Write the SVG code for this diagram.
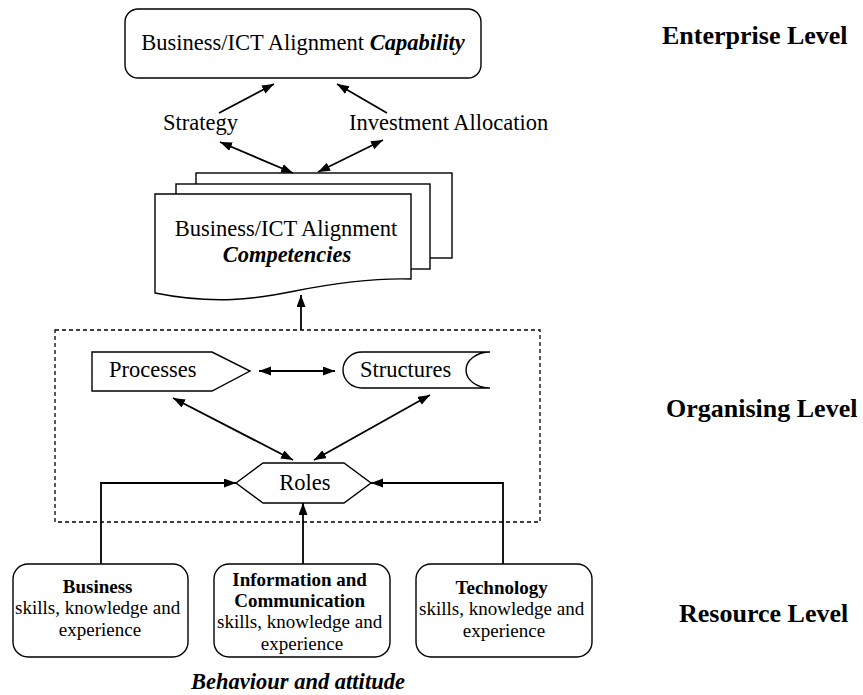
<svg xmlns="http://www.w3.org/2000/svg" width="863" height="695" viewBox="0 0 863 695">
  <defs>
    <marker id="head" markerUnits="userSpaceOnUse" markerWidth="13" markerHeight="10" refX="12" refY="4.5" orient="auto-start-reverse">
      <path d="M0,0 L12,4.5 L0,9 Z" fill="#000"/>
    </marker>
    <style>
      text { font-family: "Liberation Serif", "Times New Roman", serif; fill: #000; }
      .t { font-size: 22.5px; }
      .s { font-size: 19px; }
      .lvl { font-size: 26px; font-weight: bold; }
      .bi { font-weight: bold; font-style: italic; }
      .b { font-weight: bold; }
      .shape { fill: #fff; stroke: #000; stroke-width: 1.4; }
      .edge { fill: none; stroke: #000; stroke-width: 1.8; }
      .one { marker-end: url(#head); }
      .two { marker-start: url(#head); marker-end: url(#head); }
    </style>
  </defs>
  <rect width="863" height="695" fill="#fff"/>

  <!-- level labels -->
  <g id="levels">
    <text class="lvl" x="662" y="44">Enterprise Level</text>
    <text class="lvl" x="666" y="417">Organising Level</text>
    <text class="lvl" x="679" y="622">Resource Level</text>
  </g>

  <!-- enterprise level -->
  <g id="capability">
    <rect class="shape" x="125" y="9" width="356" height="69" rx="13"/>
    <text class="t" x="303" y="50" text-anchor="middle">Business/ICT Alignment <tspan class="bi">Capability</tspan></text>
  </g>
  <g id="strategy">
    <text class="t" x="163" y="130">Strategy</text>
  </g>
  <g id="investment">
    <text class="t" x="349" y="130">Investment Allocation</text>
  </g>
  <g id="competencies">
    <rect class="shape" x="196" y="173" width="256" height="85"/>
    <rect class="shape" x="176" y="184" width="254" height="85"/>
    <path class="shape" d="M155,194 L411,194 L411,279 C375,278 335,283 295,291 C255,299 215,305 155,293 Z"/>
    <text class="t" x="286" y="236" text-anchor="middle">Business/ICT Alignment</text>
    <text class="t bi" x="287" y="262" text-anchor="middle">Competencies</text>
  </g>

  <!-- organising level -->
  <g id="organising">
    <rect x="55" y="330" width="485" height="192" fill="none" stroke="#000" stroke-width="1.3" stroke-dasharray="4,3"/>
  </g>
  <g id="processes">
    <path class="shape" d="M92,352 L212,352 L250,371 L212,391 L92,391 Z"/>
    <text class="t" x="109" y="377">Processes</text>
  </g>
  <g id="structures">
    <path class="shape" d="M490,352 L362,352 A19,18 0 0 0 362,388 L490,388 A24,18 0 0 1 490,352"/>
    <text class="t" x="360" y="377">Structures</text>
  </g>
  <g id="roles">
    <path class="shape" d="M236,483 L263,463 L344,463 L371,483 L344,503 L263,503 Z"/>
    <text class="t" x="305" y="490" text-anchor="middle">Roles</text>
  </g>

  <!-- resource level -->
  <g id="business">
    <rect class="shape" x="13" y="564" width="175" height="93" rx="15"/>
    <text class="s" text-anchor="middle">
      <tspan class="b" x="100" y="593">Business</tspan>
      <tspan x="100" y="614">skills, knowledge and</tspan>
      <tspan x="100" y="636">experience</tspan>
    </text>
  </g>
  <g id="ict">
    <rect class="shape" x="214" y="564" width="176" height="93" rx="15"/>
    <text class="s" text-anchor="middle">
      <tspan class="b" x="302" y="586">Information and</tspan>
      <tspan class="b" x="302" y="607">Communication</tspan>
      <tspan x="302" y="628">skills, knowledge and</tspan>
      <tspan x="302" y="650">experience</tspan>
    </text>
  </g>
  <g id="technology">
    <rect class="shape" x="416" y="564" width="176" height="93" rx="15"/>
    <text class="s" text-anchor="middle">
      <tspan class="b" x="504" y="594">Technology</tspan>
      <tspan x="504" y="615">skills, knowledge and</tspan>
      <tspan x="504" y="637">experience</tspan>
    </text>
  </g>
  <g id="behaviour">
    <text class="t bi" x="298" y="689" text-anchor="middle">Behaviour and attitude</text>
  </g>

  <!-- connectors -->
  <g id="connectors">
    <line class="edge one" x1="219" y1="113" x2="274" y2="84"/>
    <line class="edge one" x1="387" y1="113" x2="337" y2="84"/>
    <line class="edge two" x1="220" y1="142" x2="293" y2="173"/>
    <line class="edge two" x1="383" y1="140" x2="318" y2="172"/>
    <line class="edge one" x1="301" y1="330" x2="301" y2="295"/>
    <line class="edge two" x1="259" y1="371" x2="335" y2="371"/>
    <line class="edge two" x1="173" y1="398" x2="293" y2="460"/>
    <line class="edge two" x1="430" y1="395" x2="314" y2="460"/>
    <polyline class="edge one" points="101,564 101,483 236,483"/>
    <line class="edge one" x1="303" y1="564" x2="303" y2="503"/>
    <polyline class="edge one" points="503,564 503,483 371,483"/>
  </g>
</svg>
